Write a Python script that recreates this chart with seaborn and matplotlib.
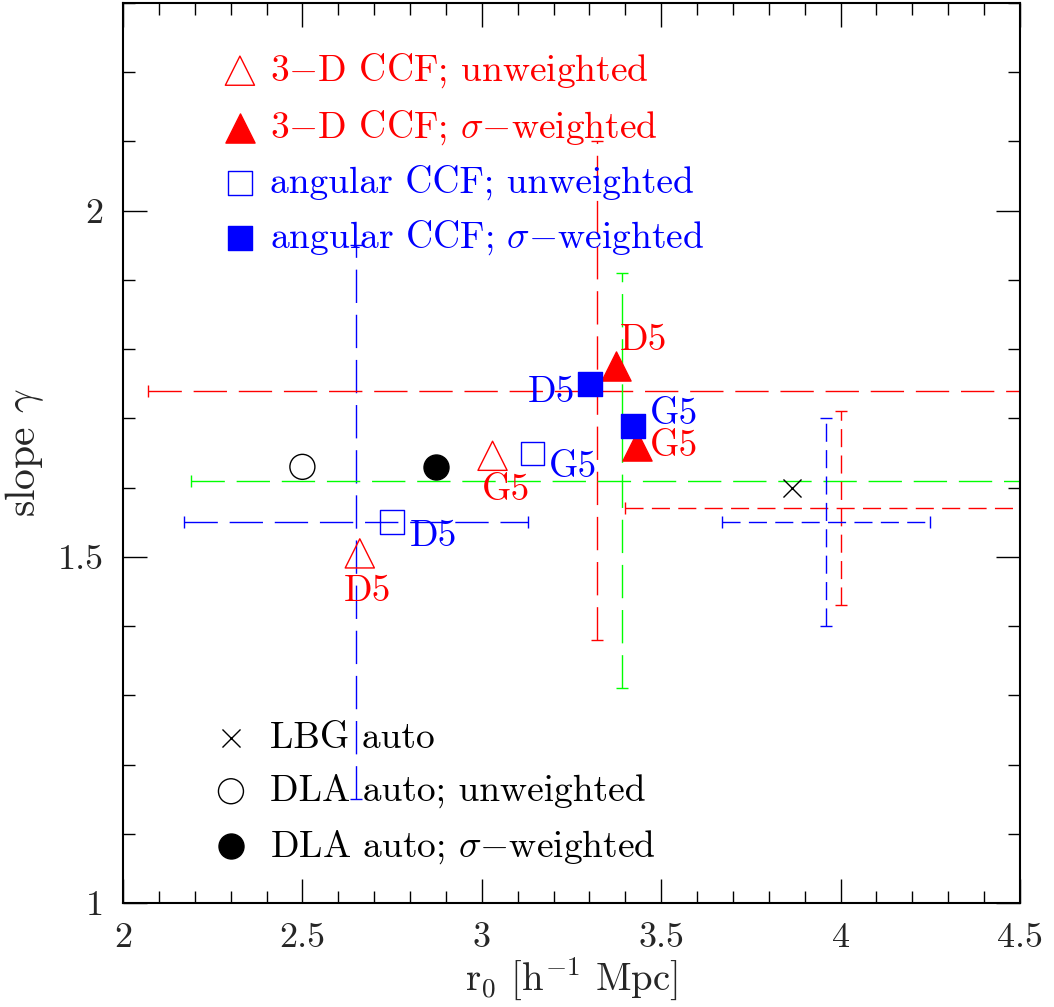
import pandas as pd
import seaborn as sns
import matplotlib.pyplot as plt
from matplotlib.ticker import MultipleLocator, FuncFormatter

sns.set_theme(style="ticks")
plt.rcParams['font.family'] = ['cmr10', 'DejaVu Serif']
plt.rcParams['mathtext.fontset'] = 'cm'
plt.rcParams['axes.formatter.use_mathtext'] = True
plt.rcParams['axes.unicode_minus'] = False

# ---- data ----
# 3-D CCF (triangles), angular CCF (squares); D5 / G5 samples
tri_open_x = [2.66, 3.03]
tri_open_y = [1.505, 1.646]
tri_fill_x = [3.374, 3.433]
tri_fill_y = [1.776, 1.660]
sq_open_x = [2.75, 3.141]
sq_open_y = [1.55, 1.649]
sq_fill_x = [3.302, 3.421]
sq_fill_y = [1.749, 1.689]
sample_lab = ["D5", "G5"]

# auto-correlations
lbg_x = [3.865]
lbg_y = [1.599]
dla_open_x = [2.50]
dla_open_y = [1.63]
dla_fill_x = [2.871]
dla_fill_y = [1.63]

# error crosses
cross_x = [2.65, 3.32, 3.39, 4.00, 3.96]
cross_y = [1.55, 1.74, 1.61, 1.57, 1.55]
cross_xerr = [0.48, 1.25, 1.20, 0.60, 0.29]
cross_yerr = [0.40, 0.36, 0.30, 0.14, 0.15]
cross_col = ["blue", "red", "lime", "red", "blue"]
cross_style = ["long", "long", "long", "short", "short"]

dashes = {"long": (24, 8.5), "short": (13, 6)}

fig = plt.figure(figsize=(10.54, 10.07), dpi=100)
ax = fig.add_axes([0.1167, 0.1033, 0.851, 0.8937])

for x, y, xe, ye, c, st in zip(cross_x, cross_y, cross_xerr, cross_yerr, cross_col, cross_style):
    eb = ax.errorbar(x, y, xerr=xe, yerr=ye, fmt="none", ecolor=c, elinewidth=1.0,
                     capsize=4.5, capthick=1.0, zorder=1)
    for lc in eb[2]:
        lc.set_linestyle((0, dashes[st]))

ms = 19
fs = 27

def pts(xs, ys, marker, size, face, edge, lw=1.0):
    df = pd.DataFrame({"x": xs, "y": ys})
    sns.scatterplot(data=df, x="x", y="y", marker=marker, s=size ** 2,
                    facecolor=face, edgecolor=edge, linewidth=lw, ax=ax, zorder=3)
    return ax.collections[-1]

h_to = pts(tri_open_x, tri_open_y, "^", ms + 2, "none", "red")
h_tf = pts(tri_fill_x, tri_fill_y, "^", ms + 2, "red", "red")
h_so = pts(sq_open_x, sq_open_y, "s", ms - 2, "none", "blue")
h_sf = pts(sq_fill_x, sq_fill_y, "s", ms - 2, "blue", "blue")
h_x = pts(lbg_x, lbg_y, "x", 13, "black", "black")
h_co = pts(dla_open_x, dla_open_y, "o", ms - 1, "none", "black")
h_cf = pts(dla_fill_x, dla_fill_y, "o", ms - 1, "black", "black")

# sample labels (offsets in points from the marker)
lab_sets = [
    (tri_open_x, tri_open_y, "red", [(5.5, -27), (9.7, -25)]),
    (tri_fill_x, tri_fill_y, "red", [(19.5, 18), (26.5, 0)]),
    (sq_open_x, sq_open_y, "blue", [(29.5, -10), (29, -10)]),
    (sq_fill_x, sq_fill_y, "blue", [(-28, -5.5), (29.5, 8.5)]),
]
for xs, ys, c, offs in lab_sets:
    for x, y, lab, off in zip(xs, ys, sample_lab, offs):
        ax.annotate(lab, (x, y), xytext=off, textcoords="offset points",
                    ha="center", va="center", color=c, fontsize=fs)

leg1 = ax.legend([h_to, h_tf, h_so, h_sf],
                 ["3$-$D CCF; unweighted", "3$-$D CCF; $\\sigma$$-$weighted",
                  "angular CCF; unweighted", "angular CCF; $\\sigma$$-$weighted"],
                 labelcolor=["red", "red", "blue", "blue"], loc="upper left",
                 bbox_to_anchor=(0.076, 0.984), frameon=False, fontsize=fs,
                 scatterpoints=1, handlelength=0.8, handletextpad=0.4, labelspacing=0.485)
ax.add_artist(leg1)
ax.legend([h_x, h_co, h_cf],
          ["LBG auto", "DLA auto; unweighted", "DLA auto; $\\sigma$$-$weighted"],
          labelcolor="black", loc="lower left", bbox_to_anchor=(0.066, 0.004),
          frameon=False, fontsize=fs, scatterpoints=1, handlelength=0.8,
          handletextpad=0.65, labelspacing=0.52)

ax.set_xlim(2, 4.5)
ax.set_ylim(1, 2.3)
ax.xaxis.set_major_locator(MultipleLocator(0.5))
ax.xaxis.set_minor_locator(MultipleLocator(0.1))
ax.yaxis.set_major_locator(MultipleLocator(0.5))
ax.yaxis.set_minor_locator(MultipleLocator(0.1))
fmt = FuncFormatter(lambda v, p: "%g" % v)
ax.xaxis.set_major_formatter(fmt)
ax.yaxis.set_major_formatter(fmt)
ax.tick_params(which="both", direction="in", top=True, right=True, color="black",
               width=1.0, labelsize=26)
ax.tick_params(which="major", length=17, pad=14)
ax.tick_params(which="minor", length=8.5)
for sp in ax.spines.values():
    sp.set_linewidth(1.5)
    sp.set_color("black")

ax.set_xlabel("r$_0$ [h$^{-1}$ Mpc]", fontsize=28, labelpad=1)
ax.set_ylabel("slope $\\gamma$", fontsize=30, labelpad=8)

fig.savefig("out.png", dpi=100)
